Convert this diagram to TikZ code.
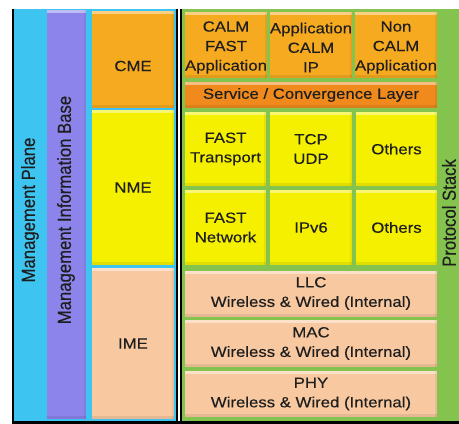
\documentclass[tikz,border=0pt]{standalone}
\usepackage{fontspec}
\setmainfont[FakeStretch=1.14,FakeBold=0.3]{Liberation Sans}
\newfontfamily\sidefont[FakeBold=0.3]{Liberation Sans}
\definecolor{mpcyan}{RGB}{62,196,240}
\definecolor{mibpurple}{RGB}{140,132,234}
\definecolor{cmeorange}{RGB}{246,170,32}
\definecolor{svcorange}{RGB}{240,138,28}
\definecolor{nmeyellow}{RGB}{244,240,0}
\definecolor{imepeach}{RGB}{248,200,160}
\definecolor{stackgreen}{RGB}{132,196,78}
\definecolor{txt}{RGB}{30,30,30}
\newcommand{\cellfont}{\fontsize{14.7}{19.5}\selectfont}
\newcommand{\sidetext}[1]{\scalebox{1}[1.14]{\sidefont\fontsize{16.7}{18}\selectfont #1}}
\begin{document}
\begin{tikzpicture}[x=1pt,y=-1pt,
  bevel/.style={draw=none, inner sep=0pt, align=center, font=\cellfont, text=txt,
    path picture={
      \fill[white,opacity=0.45] (path picture bounding box.north west) rectangle ([yshift=-3pt]path picture bounding box.north east);
      \fill[black,opacity=0.08] (path picture bounding box.south west) rectangle ([yshift=3pt]path picture bounding box.south east);
      \fill[black,opacity=0.06] ([xshift=-2pt]path picture bounding box.north east) rectangle (path picture bounding box.south east);
    }},
  plain/.style={inner sep=0pt, font=\cellfont, text=txt},
  sidelabel/.style={inner sep=0pt, text=txt, rotate=90}]
\useasboundingbox (0,0) rectangle (459,424);
\fill[white] (0,0) rectangle (459,424);
% left panel
\fill[mpcyan] (12,9) rectangle (177,421);
\node[bevel, fill=mibpurple, minimum width=39pt, minimum height=409pt] (mibbox) at (66.5,214.5) {};
\node[sidelabel] (mplabel) at (30,210) {\sidetext{Management Plane}};
\node[sidelabel] (miblabel) at (66,210) {\sidetext{Management Information Base}};
\node[bevel, fill=cmeorange, minimum width=82pt, minimum height=97pt] (cme) at (133,59.5) {};
\node[plain] (cmelabel) at (133,66) {CME};
\node[bevel, fill=nmeyellow, minimum width=82pt, minimum height=155pt] (nme) at (133,187.5) {NME};
\node[bevel, fill=imepeach, minimum width=82pt, minimum height=151pt] (ime) at (133,343.5) {IME};
% right panel
\fill[stackgreen] (181,9) rectangle (459,421);
\node[sidelabel] (pslabel) at (449,213) {\sidetext{Protocol Stack}};
% row 1
\node[bevel, fill=cmeorange, minimum width=82pt, minimum height=66pt] (calmfast) at (226,45) {};
\node[bevel, fill=cmeorange, minimum width=82pt, minimum height=66pt] (appcalm) at (311,45) {};
\node[bevel, fill=cmeorange, minimum width=82pt, minimum height=66pt] (noncalm) at (396,45) {};
\node[plain, align=center] (calmfasttext) at (226,47.5) {CALM\\FAST\\Application};
\node[plain, align=center] (appcalmtext) at (311,47.5) {Application\\CALM\\IP};
\node[plain, align=center] (noncalmtext) at (396,47.5) {Non\\CALM\\Application};
\node[bevel, fill=svcorange, minimum width=252pt, minimum height=26pt] (svc) at (311,95) {Service / Convergence Layer};
% row 2
\node[bevel, fill=nmeyellow, minimum width=81pt, minimum height=74pt] (fasttr) at (225.5,149) {FAST\\Transport};
\node[bevel, fill=nmeyellow, minimum width=82pt, minimum height=74pt] (tcpudp) at (311,149) {TCP\\UDP};
\node[bevel, fill=nmeyellow, minimum width=81pt, minimum height=74pt] (others1) at (396.5,149) {Others};
% row 3
\node[bevel, fill=nmeyellow, minimum width=81pt, minimum height=75pt] (fastnet) at (225.5,227.5) {FAST\\Network};
\node[bevel, fill=nmeyellow, minimum width=82pt, minimum height=75pt] (ipv6) at (311,227.5) {IPv6};
\node[bevel, fill=nmeyellow, minimum width=81pt, minimum height=75pt] (others2) at (396.5,227.5) {Others};
% lower layers
\node[bevel, fill=imepeach, minimum width=252pt, minimum height=46pt] (llc) at (311,293.5) {LLC\\Wireless \& Wired (Internal)};
\node[bevel, fill=imepeach, minimum width=252pt, minimum height=47pt] (mac) at (311,343.5) {MAC\\Wireless \& Wired (Internal)};
\node[bevel, fill=imepeach, minimum width=252pt, minimum height=46pt] (phy) at (311,394) {PHY\\Wireless \& Wired (Internal)};
% borders
\draw[line width=2pt, black] (12.5,9) -- (12.5,422);
\draw[line width=2pt, black] (176.5,9) -- (176.5,422);
\draw[line width=2pt, black] (181,9) -- (181,422);
\draw[line width=3pt, black] (11.5,422.5) -- (459,422.5);
\end{tikzpicture}
\end{document}
